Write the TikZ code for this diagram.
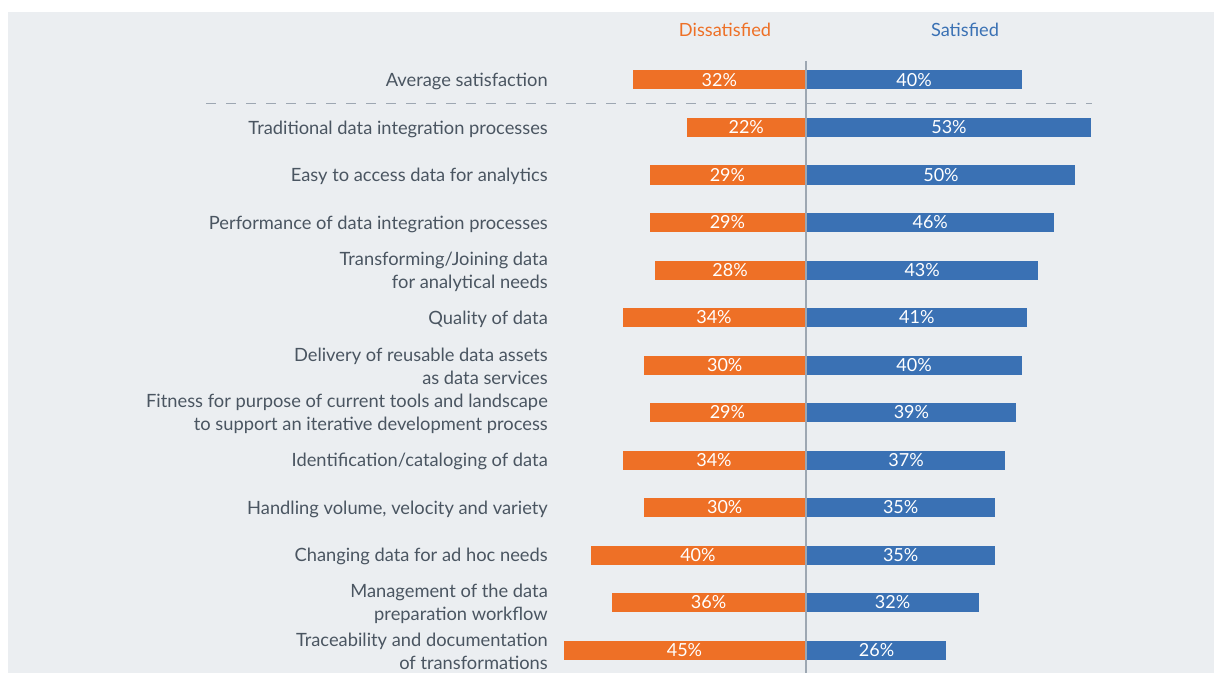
\documentclass[tikz,border=0pt]{standalone}
\usepackage{fontspec}
\setmainfont{Lato}
\usetikzlibrary{positioning}

\definecolor{panel}{HTML}{EBEEF1}
\definecolor{discol}{HTML}{EE7026}
\definecolor{satcol}{HTML}{3A71B4}
\definecolor{txtcol}{HTML}{4A5561}
\definecolor{rulecol}{HTML}{9DA7B2}

\tikzset{
  rowlabel/.style={anchor=east, align=right, text=txtcol, inner sep=0pt,
    font=\fontsize{18.3}{23}\selectfont},
  bar/.style={minimum height=19pt, inner sep=0pt, text=white,
    font=\fontsize{18}{20}\selectfont},
  disbar/.style={bar, fill=discol, anchor=east},
  satbar/.style={bar, fill=satcol, anchor=west},
  header/.style={font=\fontsize{18.2}{20}\selectfont, inner sep=0pt},
}

\begin{document}
\begin{tikzpicture}[x=1pt, y=-1pt]
  % background
  \fill[white] (0,0) rectangle (1214,673);
  \fill[panel] (8,12) rectangle (1214,673);

  \node[header, text=discol] (hdis) at (725,29.5) {Dissatisfied};
  \node[header, text=satcol] (hsat) at (965,29.5) {Satisfied};

  % rows
  \foreach \lab/\dis/\sat [count=\i from 0] in {
      Average satisfaction/32/40,
      Traditional data integration processes/22/53,
      Easy to access data for analytics/29/50,
      Performance of data integration processes/29/46,
      {Transforming/Joining data\\for analytical needs}/28/43,
      Quality of data/34/41,
      {Delivery of reusable data assets\\as data services}/30/40,
      {Fitness for purpose of current tools and landscape\\to support an iterative development process}/29/39,
      {Identification/cataloging of data}/34/37,
      {Handling volume, velocity and variety}/30/35,
      Changing data for ad hoc needs/40/35,
      {Management of the data\\preparation workflow}/36/32,
      {Traceability and documentation\\of transformations}/45/26}{
    \pgfmathsetmacro\y{80+47.5*\i}
    \node[rowlabel] (lab\i) at (548,\y+1.5) {\lab};
    \node[disbar, minimum width=\dis*5.37pt] (dis\i) at (805.5,\y) {\dis\%};
    \node[satbar, minimum width=\sat*5.37pt] (sat\i) at (806.5,\y) {\sat\%};
  }

  \coordinate (dl) at (206,103.5);
  \coordinate (dr) at (1092,103.5);
  \draw[rulecol, line width=1.5pt, dash pattern=on 10pt off 10pt] (dl) -- (dr);

  \coordinate (axtop) at (806,61);
  \coordinate (axbot) at (806,673);
  \draw[rulecol, line width=1.3pt] (axtop) -- (axbot);
\end{tikzpicture}
\end{document}
